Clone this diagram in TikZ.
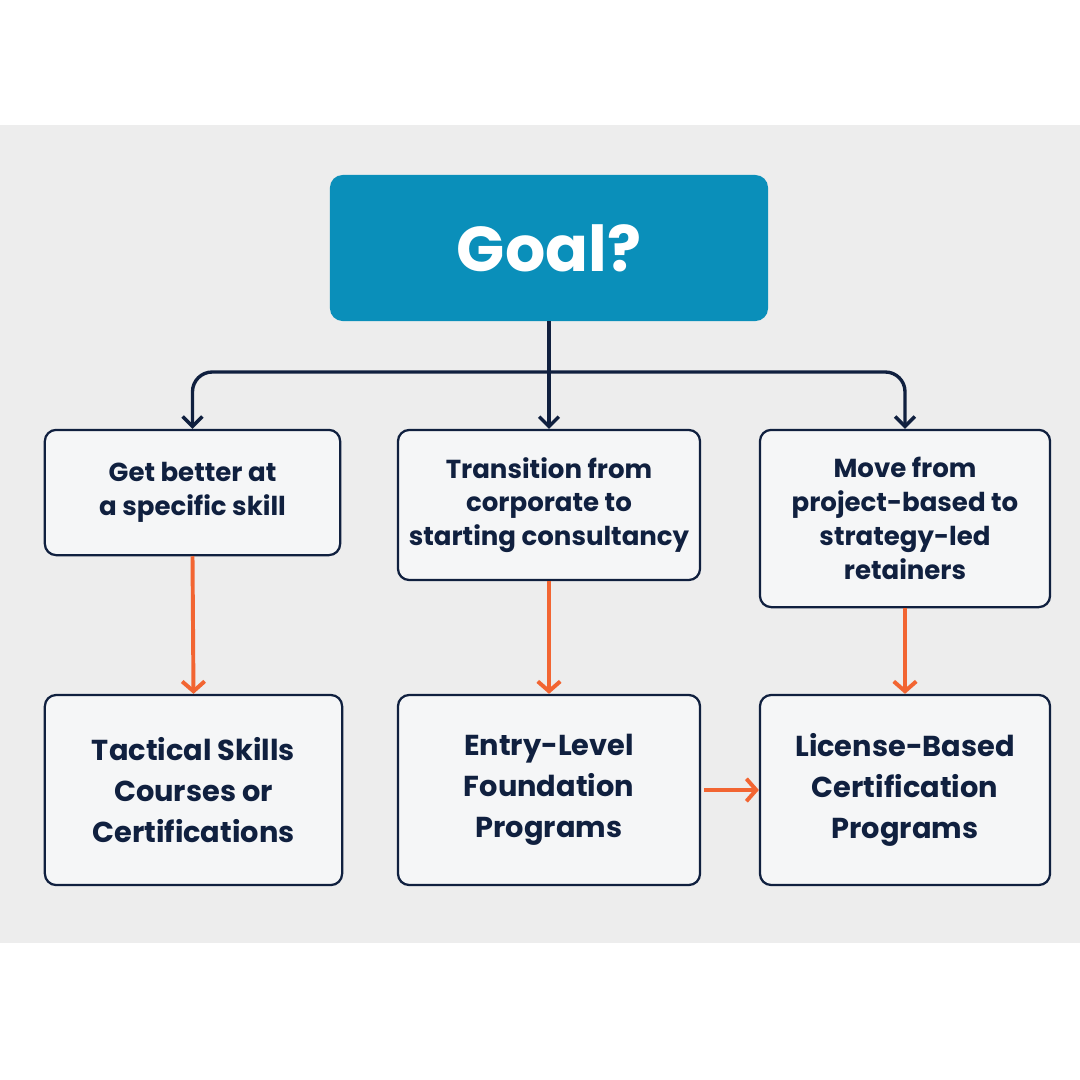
\documentclass[tikz,border=0pt]{standalone}
\usepackage{fontspec}
\setmainfont{Poppins}
\usetikzlibrary{arrows.meta,positioning}
\definecolor{goalblue}{HTML}{0A8FBA}
\definecolor{navy}{HTML}{10203F}
\definecolor{flame}{HTML}{F26532}
\definecolor{panel}{HTML}{EDEDED}
\definecolor{boxfill}{HTML}{F5F6F7}
\begin{document}
\begin{tikzpicture}[x=0.025cm,y=-0.025cm,
    choice/.style={draw=navy, line width=1.6pt, fill=boxfill, rounded corners=8pt,
      align=center, font=\fontsize{18.5}{24}\selectfont\bfseries, text=navy, inner sep=0pt},
    program/.style={choice, font=\fontsize{20.5}{29}\selectfont\bfseries},
    branch/.style={draw=navy, line width=2.4pt, -{Straight Barb[length=7pt,width=14pt]}, rounded corners=14pt},
    flow/.style={draw=flame, line width=2.8pt, -{Straight Barb[length=7pt,width=16pt]}}]
  % canvas
  \useasboundingbox (0,0) rectangle (1080,1080);
  \fill[white] (0,0) rectangle (1080,1080);
  \fill[panel] (0,125) rectangle (1080,943);
  % goal
  \node[fill=goalblue, rounded corners=9pt, minimum width=10.95cm, minimum height=3.65cm,
    text=white, font=\fontsize{45}{54}\selectfont\bfseries] (goal) at (549,248) {Goal?};
  % choices
  \node[choice, minimum width=7.38cm, minimum height=3.13cm] (skill) at (192.5,492.5) {Get better at\\a specific skill};
  \node[choice, minimum width=7.55cm, minimum height=3.75cm] (corp) at (549,505) {Transition from\\corporate to\\starting consultancy};
  \node[choice, minimum width=7.25cm, minimum height=4.43cm] (proj) at (905,518.5) {Move from\\project-based to\\strategy-led\\retainers};
  % programs
  \node[program, minimum width=7.43cm, minimum height=4.75cm] (tact) at (193.5,790) {Tactical Skills\\Courses or\\Certifications};
  \node[program, minimum width=7.55cm, minimum height=4.75cm] (entry) at (549,790) {Entry-Level\\Foundation\\Programs};
  \node[program, minimum width=7.25cm, minimum height=4.75cm] (lic) at (905,790) {License-Based\\Certification\\Programs};
  % branches
  \coordinate (split) at (549,372);
  \draw[branch] (goal.south) -- (corp.north);
  \draw[branch] (split) -| (skill.north);
  \draw[branch] (split) -| (proj.north);
  % flows
  \draw[flow] (skill.south) -- (tact.north);
  \draw[flow] (corp.south) -- (entry.north);
  \draw[flow] (proj.south) -- (lic.north);
  \draw[flow] ([xshift=2pt]entry.east) -- (lic.west);
\end{tikzpicture}
\end{document}
